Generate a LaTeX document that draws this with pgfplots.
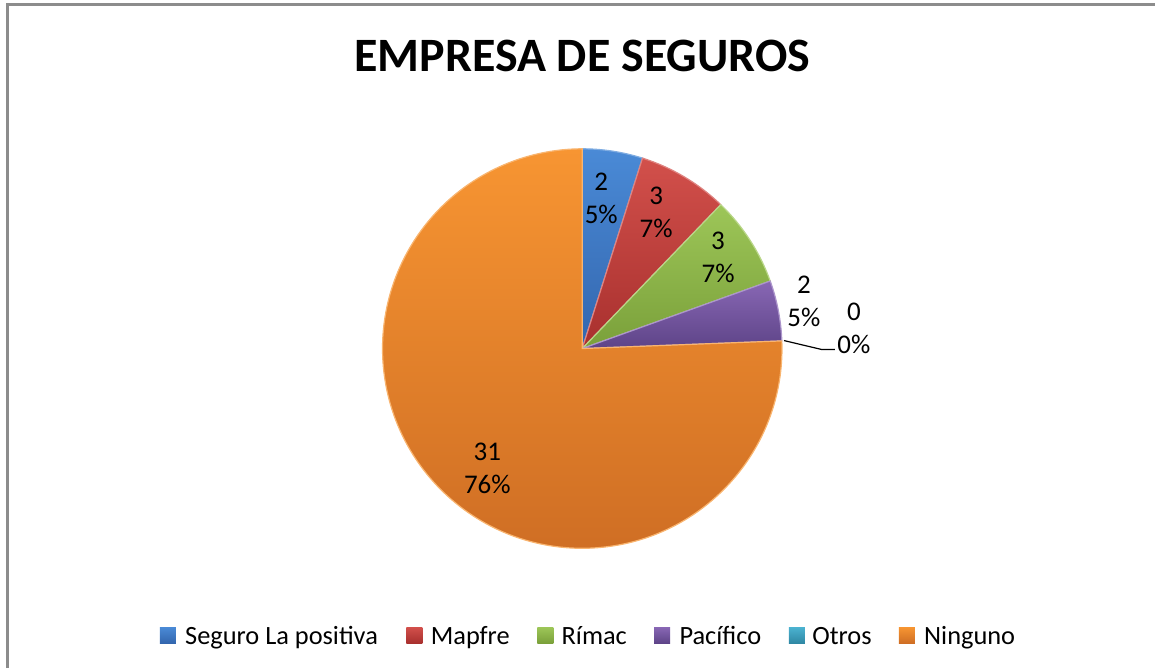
\documentclass[border=0pt]{standalone}
\usepackage{pgfplots}
\pgfplotsset{compat=1.18}
\usepackage{fontspec}
\setmainfont{Carlito}
% light (top) and dark (bottom) tone for each slice
\definecolor{cblueA}{HTML}{4A8AD6}\definecolor{cblueB}{HTML}{3366AE}
\definecolor{credA}{HTML}{D2504B}\definecolor{credB}{HTML}{A8302E}
\definecolor{cgreenA}{HTML}{9DC658}\definecolor{cgreenB}{HTML}{7AA03A}
\definecolor{cpurpleA}{HTML}{8867B4}\definecolor{cpurpleB}{HTML}{5E4488}
\definecolor{ctealA}{HTML}{4BB2D0}\definecolor{ctealB}{HTML}{2F88A4}
\definecolor{corangeA}{HTML}{F79532}\definecolor{corangeB}{HTML}{CF6E24}

\begin{document}
\begin{tikzpicture}
\begin{axis}[
  width=578pt, height=334.5pt, scale only axis,
  xmin=0, xmax=1156, ymin=0, ymax=669, y dir=reverse,
  hide axis, clip=false,
]
% page box and chart frame (pixel coordinates, 1px = 0.5pt)
\path (axis cs:0,0) rectangle (axis cs:1156,669);
\draw[black!45, line width=1.5pt] (axis cs:8,669) -- (axis cs:8,5) -- (axis cs:1156,5);

\node[font=\fontsize{24}{28}\selectfont\bfseries] at (axis cs:583,56) {EMPRESA DE SEGUROS};

% slices: value/colour, clockwise from 12 o'clock, total 41
\gdef\cum{0}
\foreach \v/\c in {2/cblue,3/cred,3/cgreen,2/cpurple,0/cteal,31/corange}{
  \pgfmathsetmacro{\aA}{90-360*\cum/41}
  \pgfmathsetmacro{\aB}{90-360*(\cum+\v)/41}
  \ifdim\v pt>0pt
    \edef\temp{\noexpand\shade[top color=\c A, bottom color=\c B,
        draw=\c A!70!white, line width=0.6pt]
      (axis cs:583,349) -- ++(\aA:100pt) arc[start angle=\aA, end angle=\aB, radius=100pt] -- cycle;}
    \temp
  \fi
  \pgfmathsetmacro{\newcum}{\cum+\v}
  \xdef\cum{\newcum}
}

% data labels
\tikzset{lbl/.style={align=center, inner sep=0pt, font=\fontsize{13.5}{16.5}\selectfont}}
\node[lbl] at (axis cs:602,199) {2\\5\%};
\node[lbl] at (axis cs:657,213) {3\\7\%};
\node[lbl] at (axis cs:719,258) {3\\7\%};
\node[lbl] at (axis cs:805,302) {2\\5\%};
\node[lbl] at (axis cs:855,329) {0\\0\%};
\node[lbl] at (axis cs:488,469) {31\\76\%};
\draw[black, line width=0.6pt] (axis cs:785,341) -- (axis cs:823,350) -- (axis cs:836,350);

% legend
\tikzset{leg/.style={anchor=base west, inner sep=0pt, font=\fontsize{13.2}{16}\selectfont}}
\foreach \xs/\xt/\c/\t in {160/185/cblue/Seguro La positiva, 407/431/cred/Mapfre, 538/562/cgreen/Rímac,
                           655/680/cpurple/Pacífico, 790/813/cteal/Otros, 900/925/corange/Ninguno}{
  \edef\temp{\noexpand\shade[top color=\c A, bottom color=\c B] (axis cs:\xs,628) rectangle (axis cs:\xs+16,644);
    \noexpand\node[leg] at (axis cs:\xt,645) {\t};}
  \temp
}
\end{axis}
\end{tikzpicture}
\end{document}
